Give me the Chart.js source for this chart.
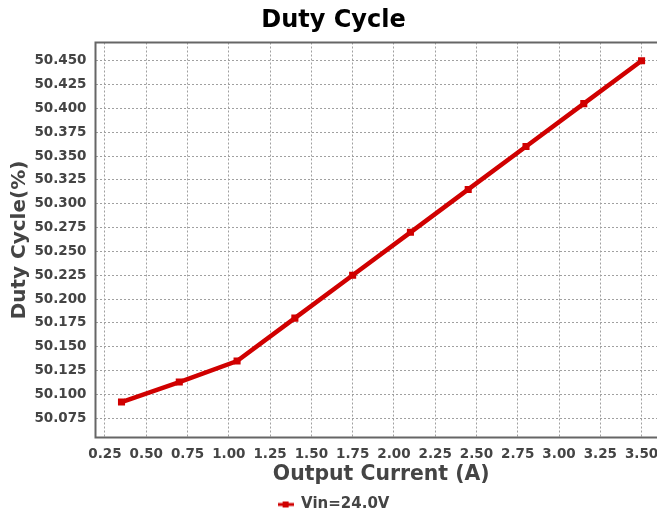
<!DOCTYPE html>
<html>
<head>
<meta charset="utf-8">
<script src="https://cdn.jsdelivr.net/npm/chart.js@4/dist/chart.umd.min.js"></script>
<style>
  body { margin: 0; background: #fff; overflow: hidden; }
  /* the original figure is a bit larger than the window; it gets cropped on the right and bottom */
  #wrap { width: 674px; height: 522px; }
</style>
</head>
<body>
<div id="wrap"><canvas id="chart"></canvas></div>
<script>
// Duty cycle vs output current
const currents = [0.35, 0.70, 1.05, 1.40, 1.75, 2.10, 2.45, 2.80, 3.15, 3.50]
const dutyCycle = [50.092, 50.113, 50.135, 50.180, 50.225, 50.270, 50.315, 50.360, 50.405, 50.450]
const xTicks = [0.25, 0.50, 0.75, 1.00, 1.25, 1.50, 1.75, 2.00, 2.25, 2.50, 2.75, 3.00, 3.25, 3.50]
const yTicks = [50.075, 50.100, 50.125, 50.150, 50.175, 50.200, 50.225, 50.250, 50.275, 50.300, 50.325, 50.350, 50.375, 50.400, 50.425, 50.450]

const FONT = "'DejaVu Sans', sans-serif"
const TEXT = '#444'
const RED = '#d00000'

// legend marker: short line with a square in the middle
const marker = document.createElement('canvas')
marker.width = 16
marker.height = 8
const mctx = marker.getContext('2d')
mctx.fillStyle = RED
mctx.fillRect(0, 2.5, 16, 3)
mctx.fillRect(5, 1, 6, 6)

// plot frame (left, top, bottom), drawn under the line
const framePlugin = {
  id: 'frame',
  beforeDatasetsDraw(chart) {
    const { ctx, chartArea: a } = chart
    ctx.save()
    ctx.strokeStyle = '#666'
    ctx.lineWidth = 2
    ctx.beginPath()
    ctx.moveTo(a.right, a.top)
    ctx.lineTo(a.left, a.top)
    ctx.lineTo(a.left, a.bottom)
    ctx.lineTo(a.right, a.bottom)
    ctx.stroke()
    ctx.restore()
  }
}

new Chart(document.getElementById('chart'), {
  type: 'line',
  data: {
    datasets: [{
      label: 'Vin=24.0V',
      data: currents.map((x, i) => ({ x: x, y: dutyCycle[i] })),
      borderColor: RED,
      backgroundColor: RED,
      borderWidth: 4.5,
      tension: 0,
      pointStyle: 'rect',
      pointRadius: 5,
      pointBorderWidth: 0,
      pointBackgroundColor: RED
    }]
  },
  options: {
    responsive: true,
    maintainAspectRatio: false,
    animation: false,
    layout: { padding: { left: 0, right: 7, top: 0, bottom: 0 } },
    plugins: {
      title: {
        display: true,
        text: 'Duty Cycle',
        color: '#000',
        font: { family: FONT, size: 24, weight: 'bold' },
        padding: { top: 6, bottom: 7.7 }
      },
      legend: {
        position: 'bottom',
        labels: {
          color: TEXT,
          font: { family: FONT, size: 15, weight: 'bold' },
          usePointStyle: true,
          pointStyle: marker,
          pointStyleWidth: 16,
          boxHeight: 8,
          padding: 1
        }
      },
      tooltip: { enabled: false }
    },
    scales: {
      x: {
        type: 'linear',
        min: 0.1925,
        max: 3.654,
        afterBuildTicks: axis => { axis.ticks = xTicks.map(v => ({ value: v })) },
        ticks: {
          color: TEXT,
          padding: 9,
          maxRotation: 0,
          autoSkip: false,
          font: { family: FONT, size: 13.5, weight: 'bold' },
          callback: v => Number(v).toFixed(2)
        },
        grid: { color: '#a0a0a0', drawTicks: false },
        border: { display: false, dash: [2, 2] },
        title: {
          display: true,
          text: 'Output Current (A)',
          color: TEXT,
          font: { family: FONT, size: 20.4, weight: 'bold' },
          padding: { top: 4, bottom: 9 }
        },
        afterFit: axis => { axis.height = 58.5 }
      },
      y: {
        type: 'linear',
        min: 50.0548,
        max: 50.4691,
        afterBuildTicks: axis => { axis.ticks = yTicks.map(v => ({ value: v })) },
        ticks: {
          color: TEXT,
          padding: 9,
          autoSkip: false,
          font: { family: FONT, size: 13.5, weight: 'bold' },
          callback: v => Number(v).toFixed(3)
        },
        grid: { color: '#a0a0a0', drawTicks: false },
        border: { display: false, dash: [2, 2] },
        title: {
          display: true,
          text: 'Duty Cycle(%)',
          color: TEXT,
          font: { family: FONT, size: 20, weight: 'bold' },
          padding: { top: 8, bottom: 4 }
        },
        afterFit: axis => { axis.width = 95.5 }
      }
    }
  },
  plugins: [framePlugin]
})
</script>
</body>
</html>
